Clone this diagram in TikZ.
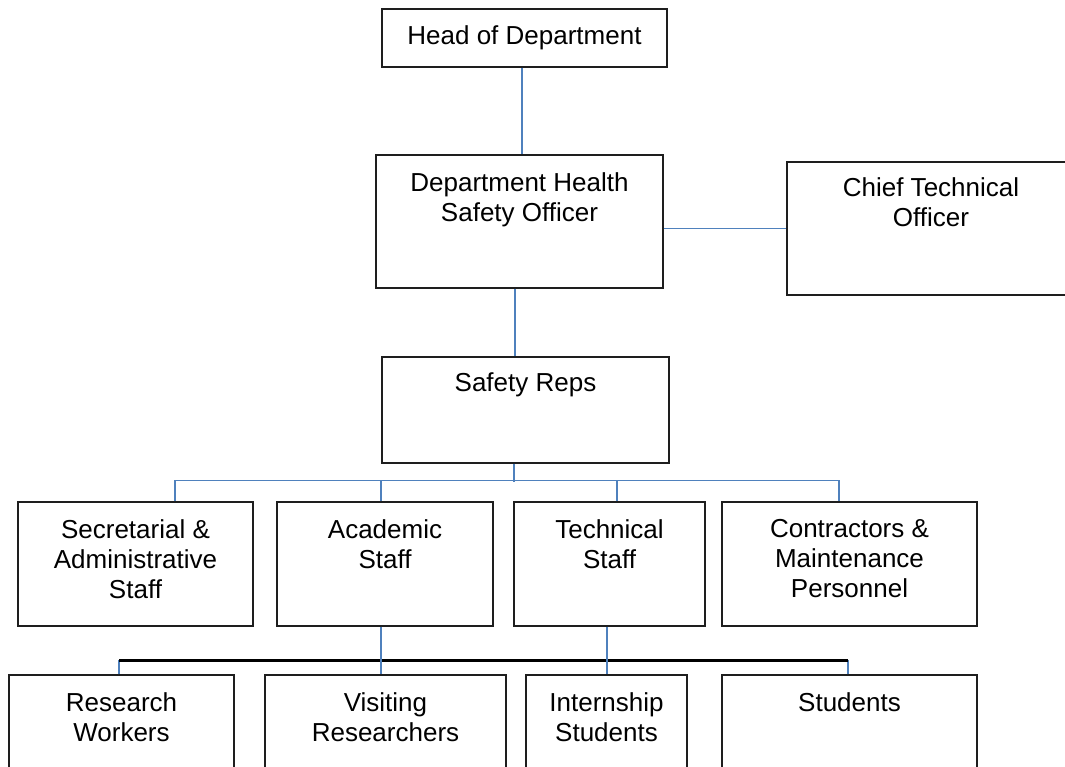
\documentclass[tikz,border=0pt]{standalone}
\usepackage{fontspec}
\setsansfont{Liberation Sans}
\usepackage{xcolor}
\usepackage{tikz}
\usetikzlibrary{positioning,calc}
\definecolor{linkblue}{RGB}{79,129,189}
\definecolor{boxline}{RGB}{30,30,30}
\tikzset{
  unit/.style={draw=boxline, line width=0.6pt, rectangle, inner sep=0pt, align=center},
  caption/.style={align=center, inner sep=0pt},
  link/.style={draw=linkblue, line width=0.8pt},
  bus/.style={draw=black, line width=1.1pt},
  % row sizes
  rowone/.style={unit, minimum height=62pt},
  rowtwo/.style={unit, minimum height=62pt}
}
\begin{document}
\begin{tikzpicture}[x=0.5pt, y=-0.5pt, font=\sffamily\fontsize{13}{15}\selectfont]
    \path[use as bounding box, clip] (0,0) rectangle (1065,766);

    % top of the chart
    \node[unit, minimum width=142.5pt, minimum height=29pt] (hod) at (524.5,38) {Head of Department};
    \node[unit, minimum width=143.5pt, minimum height=66.5pt] (dhso) at (519.5,221.5) {};
    \node[caption, below=9pt of dhso.north] (dhsotxt) {Department Health\\Safety Officer};
    \node[unit, minimum width=144pt, minimum height=66.5pt] (cto) at (931,228.5) {};
    \node[caption, below=8pt of cto.north] (ctotxt) {Chief Technical\\Officer};
    \node[unit, minimum width=143.5pt, minimum height=53pt] (reps) at (525.5,410) {};
    \node[caption, below=8pt of reps.north] (repstxt) {Safety Reps};

    % staff groups
    \node[rowone, minimum width=117.5pt] (sec) at (135.5,564) {};
    \node[caption, below=9pt of sec.north] (sectxt) {Secretarial \&\\Administrative\\Staff};
    \node[rowone, minimum width=108pt] (acad) at (385,564) {};
    \node[caption, below=9pt of acad.north] (acadtxt) {Academic\\Staff};
    \node[rowone, minimum width=95.5pt] (tech) at (609.5,564) {};
    \node[caption, below=9pt of tech.north] (techtxt) {Technical\\Staff};
    \node[rowone, minimum width=127.5pt] (contr) at (849.5,564) {};
    \node[caption, below=9pt of contr.north] (contrtxt) {Contractors \&\\Maintenance\\Personnel};

    % research and students
    \node[rowtwo, minimum width=112.5pt] (rw) at (121.5,737) {};
    \node[caption, below=9pt of rw.north] (rwtxt) {Research\\Workers};
    \node[rowtwo, minimum width=120.5pt] (vr) at (385.5,737) {};
    \node[caption, below=9pt of vr.north] (vrtxt) {Visiting\\Researchers};
    \node[rowtwo, minimum width=80.5pt] (intern) at (606.5,737) {};
    \node[caption, below=9pt of intern.north] (interntxt) {Internship\\Students};
    \node[rowtwo, minimum width=127.5pt] (stud) at (849.5,737) {};
    \node[caption, below=9pt of stud.north] (studtxt) {Students};

    % lines
    \draw[link] ([xshift=-1.25pt]hod.south) -- ([xshift=-1.25pt]hod.south |- dhso.north);
    \draw[link] (cto.west -| dhso.east) -- (cto.west);
    \draw[link] ([xshift=-2.25pt]dhso.south) -- ([xshift=-2.25pt]dhso.south |- reps.north);
    \draw[link] ([xshift=-5.75pt]reps.south) -- ++(0,18);
    \draw[link] ([xshift=19.75pt]sec.north) -- ++(0,-21) -| ([xshift=-5.25pt]contr.north);
    \draw[link] ([xshift=-2pt]acad.north) -- ++(0,-21);
    \draw[link] ([xshift=3.75pt]tech.north) -- ++(0,-21);

    \draw[link] ([xshift=-1.25pt]rw.north) -- ++(0,-14) coordinate (rwtop);
    \draw[link] ([xshift=-0.75pt]stud.north) -- ++(0,-14) coordinate (studtop);
    \draw[bus] (rwtop) -- (studtop);
    \draw[link] ([xshift=-2pt]acad.south) -- ([xshift=-2pt]acad.south |- vr.north);
    \draw[link] ([xshift=-1.25pt]tech.south) -- ([xshift=-1.25pt]tech.south |- intern.north);
\end{tikzpicture}
\end{document}
